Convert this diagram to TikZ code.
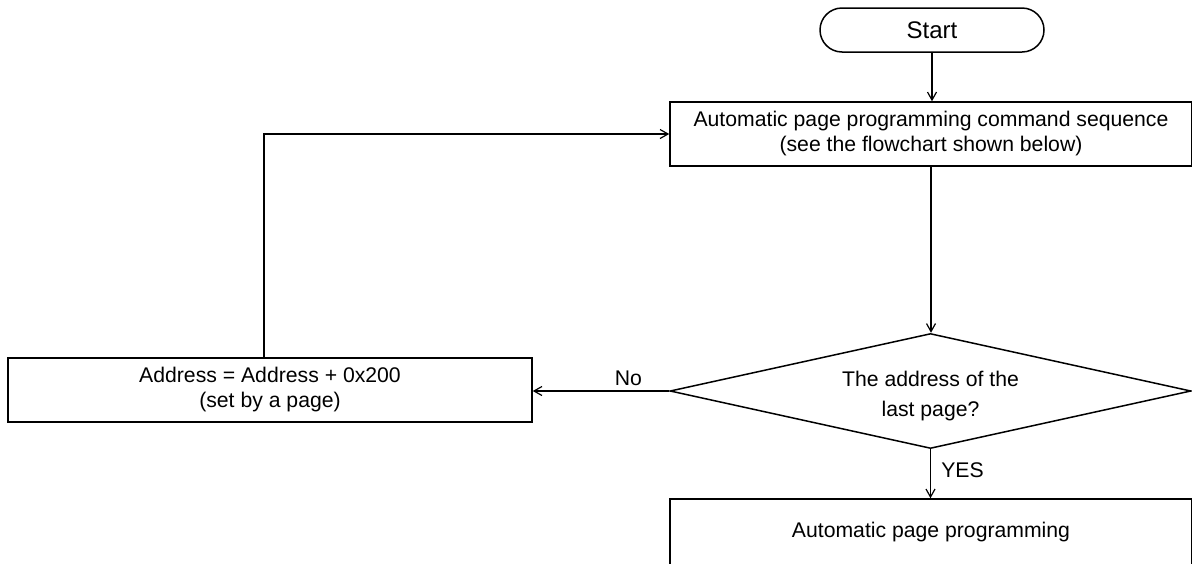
\documentclass[tikz,border=0pt]{standalone}
\usepackage{fontspec}
\setmainfont{Liberation Sans}
\usetikzlibrary{shapes.geometric,arrows.meta}
\tikzset{
  base/.style={draw=black, line width=1.5pt, inner sep=0pt, align=center,
    font=\fontsize{21.2pt}{25pt}\selectfont},
  procbox/.style={base, rectangle},
  termbox/.style={base, rectangle, rounded corners=22pt, font=\fontsize{24pt}{28pt}\selectfont},
  decision/.style={base, diamond, aspect=4.53},
  plaintext/.style={inner sep=0pt, align=center, font=\fontsize{21.2pt}{30pt}\selectfont},
  lbl/.style={inner sep=0pt, font=\fontsize{21.2pt}{25pt}\selectfont},
  arr/.style={line width=1.5pt, -{Straight Barb[length=8pt,width=9pt,line width=1.2pt]}}
}
\begin{document}
\begin{tikzpicture}[x=1pt,y=-1pt]
\useasboundingbox (0,0) rectangle (1192,563);
\node[termbox, minimum width=224pt, minimum height=44pt] (start) at (932,30) {Start};
\node[procbox, minimum width=522pt, minimum height=64pt] (cmd) at (931,134)
  {Automatic page programming command sequence\\(see the flowchart shown below)};
\node[decision, minimum width=521pt, minimum height=115pt] (dec) at (930.5,391) {};
\node[plaintext] (dectext) at (930.5,396) {The address of the\\last page?};
\node[procbox, minimum width=524pt, minimum height=64pt] (addr) at (270,390)
  {Address = Address + 0x200\\(set by a page)};
\node[procbox, minimum width=522pt, minimum height=65.5pt] (prog) at (931,531.75)
  {Automatic page programming};
\draw[arr] (start.south) -- (start.south |- cmd.north);
\draw[arr] (cmd.south) -- (cmd.south |- dec.north);
\draw[arr] (dec.west) -- node[lbl, pos=0.3, above=5pt] {No} (dec.west -| addr.east);
\draw[arr] (dec.south) -- node[lbl, pos=0.42, right=10pt] {YES} (dec.south |- prog.north);
\draw[arr] ([xshift=-6pt]addr.north) |- (cmd.west);
\end{tikzpicture}
\end{document}
